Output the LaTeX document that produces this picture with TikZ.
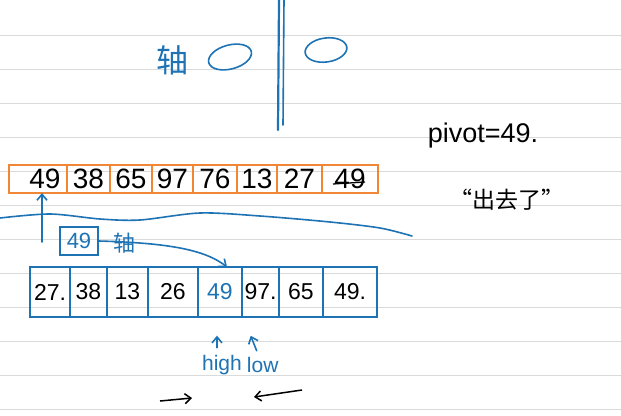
\documentclass[tikz,border=0pt]{standalone}
\usepackage{fontspec}
\setmainfont{Liberation Sans}
\newfontfamily\cjk{Noto Sans CJK SC}
\usetikzlibrary{arrows.meta, positioning}
\definecolor{inkblue}{RGB}{30,115,180}
\definecolor{inkorange}{RGB}{240,135,55}
\definecolor{rulegray}{RGB}{218,218,218}

\begin{document}
\begin{tikzpicture}[x=1pt, y=-1pt,
    ocell/.style={draw=inkorange, line width=1.3pt, minimum height=28pt, inner sep=0pt, outer sep=0pt, font=\fontsize{28}{30}\selectfont},
    bcell/.style={draw=inkblue, line width=1.3pt, minimum height=50pt, inner sep=0pt, outer sep=0pt, font=\fontsize{23}{25}\selectfont},
    pen/.style={inkblue, line width=1.6pt, line cap=round},
    tip/.style={-{Straight Barb[length=6pt, width=10pt]}}
]
    \useasboundingbox[fill=white] (0,0) rectangle (621,415);
    % ruled paper
    \foreach \y in {35,69,...,409} \draw[rulegray, line width=0.8pt] (0,\y) -- (621,\y);

    % axis sketch
    \node[inkblue, font=\cjk\fontsize{32}{34}\selectfont] (axis) at (172,60) {轴};
    \draw[pen, rotate around={15:(230,57)}] (230,57) ellipse [x radius=22, y radius=12];
    \draw[pen, rotate around={8:(326,50)}] (326,50) ellipse [x radius=21, y radius=12];
    \draw[pen, line width=2.2pt] (279,0) -- (278,130);
    \draw[pen] (284,0) -- (283,125);

    % original array
    \node[ocell, minimum width=58pt] (o1) at (38,179) {\hspace{14pt}49};
    \node[ocell, minimum width=43pt, right=0pt of o1] (o2) {38};
    \node[ocell, minimum width=42pt, right=0pt of o2] (o3) {65};
    \node[ocell, minimum width=41pt, right=0pt of o3] (o4) {97};
    \node[ocell, minimum width=44pt, right=0pt of o4] (o5) {76};
    \node[ocell, minimum width=40pt, right=0pt of o5] (o6) {13};
    \node[ocell, minimum width=45pt, right=0pt of o6] (o7) {27};
    \node[ocell, minimum width=56pt, right=0pt of o7] (o8) {49};
    \draw[line width=1.3pt] ([shift={(-17,5)}]o8.center) -- ([shift={(15,3)}]o8.center);

    \coordinate (mark) at (42,242);
    \draw[pen, tip] (mark) -- ([xshift=4pt]o1.south);
    \draw[pen, smooth] plot coordinates {(0,218) (50,214) (100,219) (140,220) (200,213) (260,216) (330,222) (380,228) (412,236)};

    % notes on the right
    \node[font=\fontsize{27}{29}\selectfont] (pivot) at (483,136) {pivot=49.};
    \node[font=\cjk\fontsize{23}{25}\selectfont] (out) at (507,200) {“出去了”};

    % after one pass
    \node[draw=inkblue, line width=1.3pt, minimum width=38pt, minimum height=28pt, inner sep=0pt, text=inkblue, font=\fontsize{22}{24}\selectfont] (pbox) at (79,241) {49};
    \node[inkblue, font=\cjk\fontsize{22}{24}\selectfont] (axis2) at (124,243) {轴};

    \node[bcell, minimum width=40pt] (b1) at (50,292) {27.};
    \node[bcell, minimum width=37pt, right=0pt of b1] (b2) {38};
    \node[bcell, minimum width=41pt, right=0pt of b2] (b3) {13};
    \node[bcell, minimum width=50pt, right=0pt of b3] (b4) {26};
    \node[bcell, minimum width=44pt, right=0pt of b4, text=inkblue] (b5) {49};
    \node[bcell, minimum width=37pt, right=0pt of b5] (b6) {97.};
    \node[bcell, minimum width=44pt, right=0pt of b6] (b7) {65};
    \node[bcell, minimum width=54pt, right=0pt of b7] (b8) {49.};

    \draw[pen, tip] (pbox.east) .. controls (170,243) and (205,250) .. ([xshift=7pt]b5.north);

    % pointers
    \node[inkblue, font=\fontsize{21}{23}\selectfont] (high) at (222,365) {high};
    \node[inkblue, font=\fontsize{21}{23}\selectfont, right=-2pt of high] (low) {low};
    \draw[pen, tip] ([shift={(-5,-4)}]high.north) -- ++(0,-12);
    \draw[pen, tip] ([shift={(-6,-3)}]low.north) -- ++(-6,-15);

    \coordinate (goright) at (160,401);
    \coordinate (goleft) at (302,390);
    \draw[line width=1.5pt, tip] (goright) -- ++(32,-3);
    \draw[line width=1.5pt, tip] (goleft) -- ++(-48,7);
\end{tikzpicture}
\end{document}
